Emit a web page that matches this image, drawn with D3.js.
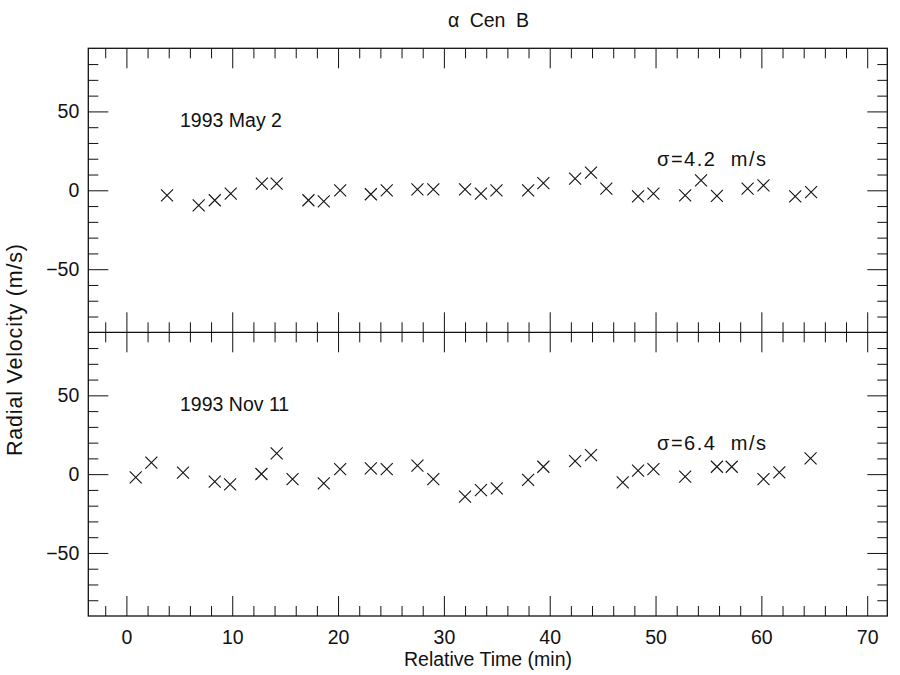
<!DOCTYPE html>
<html>
<head>
<meta charset="utf-8">
<script src="https://cdn.jsdelivr.net/npm/d3@7"></script>
<style>
  html, body { margin: 0; padding: 0; background: #fff; }
  svg { display: block; }
  text { font-family: "Liberation Sans", Arial, Helvetica, sans-serif; fill: #111; }
</style>
</head>
<body>
<svg id="chart" width="900" height="675"></svg>
<script>
// ---- data ----
const title = "α  Cen  B";
const xLabel = "Relative Time (min)";
const yLabel = "Radial Velocity (m/s)";
const panelLabels = ["1993 May 2", "1993 Nov 11"];
const sigmaLabels = ["σ=4.2  m/s", "σ=6.4  m/s"];

const timeMay = [3.84, 6.83, 8.35, 9.86, 12.8, 14.2, 17.2, 18.65, 20.2, 23.1, 24.6, 27.5, 29.0, 32.0, 33.5,
                 34.97, 37.96, 39.4, 42.4, 43.9, 45.35, 48.35, 49.8, 52.8, 54.3, 55.8, 58.7, 60.2, 63.2, 64.7];
const rvMay   = [-3.2, -9.5, -6.3, -2.1, 4.2, 4.2, -6.3, -7.0, 0.0, -2.5, 0.0, 0.6, 0.6, 0.6, -2.1,
                 0.0, 0.0, 4.6, 7.4, 11.2, 1.0, -3.8, -2.1, -3.2, 6.3, -3.6, 1.0, 3.1, -3.8, -1.1];

const timeNov = [0.88, 2.36, 5.35, 8.35, 9.8, 12.76, 14.2, 15.7, 18.65, 20.2, 23.1, 24.6, 27.5, 29.0, 32.0,
                 33.5, 35.0, 37.96, 39.4, 42.4, 43.9, 46.9, 48.35, 49.8, 52.8, 55.8, 57.2, 60.2, 61.7, 64.65];
const rvNov   = [-2.0, 7.3, 0.9, -4.8, -6.5, 0.1, 13.2, -3.1, -5.8, 3.2, 3.7, 3.2, 5.4, -3.1, -14.3,
                 -10.1, -9.0, -3.7, 4.7, 8.3, 12.1, -5.2, 2.2, 3.2, -1.6, 4.7, 4.7, -3.1, 1.1, 10.0];

const xTickValues = [0, 10, 20, 30, 40, 50, 60, 70];
const xMinorValues = d3.range(-2, 71, 2);
const yTickValues = [-50, 0, 50];
const yMinorValues = d3.range(-80, 81, 10);

// ---- layout ----
const svg = d3.select("#chart");
const L = 88.3, R = 887.3, T = 48.3, M = 332.3, B = 616;

const x = d3.scaleLinear().domain([-3.6, 71.9]).range([L, R]);
const yTop = d3.scaleLinear().domain([-90, 90]).range([M, T]);
const yBot = d3.scaleLinear().domain([-90, 90]).range([B, M]);

const panels = [
  { y: yTop, t: timeMay, v: rvMay, top: T, bottom: M, label: panelLabels[0], sigma: sigmaLabels[0] },
  { y: yBot, t: timeNov, v: rvNov, top: M, bottom: B, label: panelLabels[1], sigma: sigmaLabels[1] }
];

function strip(g) {
  g.select(".domain").remove();
  g.selectAll("line").attr("stroke", "#111").attr("stroke-width", 1);
  return g;
}

panels.forEach((p, i) => {
  [[xTickValues, 20], [xMinorValues.filter(d => d % 10 !== 0), 10]].forEach(([vals, len]) => {
    svg.append("g").attr("transform", `translate(0,${p.top})`)
      .call(d3.axisTop(x).tickValues(vals).tickSize(-len).tickFormat(""))
      .call(strip);
    svg.append("g").attr("transform", `translate(0,${p.bottom})`)
      .call(d3.axisBottom(x).tickValues(vals).tickSize(-len).tickFormat(""))
      .call(strip);
  });
  [[yTickValues, 20], [yMinorValues.filter(d => d % 50 !== 0), 10]].forEach(([vals, len]) => {
    svg.append("g").attr("transform", `translate(${L},0)`)
      .call(d3.axisLeft(p.y).tickValues(vals).tickSize(-len).tickFormat(""))
      .call(strip);
    svg.append("g").attr("transform", `translate(${R},0)`)
      .call(d3.axisRight(p.y).tickValues(vals).tickSize(-len).tickFormat(""))
      .call(strip);
  });
  svg.append("g").attr("transform", `translate(${L},0)`)
    .call(d3.axisLeft(p.y).tickValues(yTickValues).tickSize(0).tickPadding(9).tickFormat(d3.format("d")))
    .call(g => g.select(".domain").remove())
    .call(g => g.selectAll("text").attr("font-size", 19.5).attr("font-family", null).attr("fill", "#111"));

  const s = 6;
  svg.append("g").selectAll("path").data(p.t.map((t, k) => [t, p.v[k]])).join("path")
    .attr("d", d => {
      const cx = x(d[0]), cy = p.y(d[1]);
      return `M${cx - s},${cy - s}L${cx + s},${cy + s}M${cx - s},${cy + s}L${cx + s},${cy - s}`;
    })
    .attr("stroke", "#111").attr("stroke-width", 1.1).attr("fill", "none");

  svg.append("text").attr("x", 180).attr("y", p.y(44.5) + 7)
    .attr("font-size", 19.5).text(p.label);
  svg.append("text").attr("x", 657).attr("y", p.y(19.3) + 6.5)
    .attr("font-size", 20).attr("textLength", 109).attr("lengthAdjust", "spacing")
    .style("white-space", "pre").text(p.sigma);
});

svg.append("g").attr("transform", `translate(0,${B})`)
  .call(d3.axisBottom(x).tickValues(xTickValues).tickSize(0).tickPadding(14).tickFormat(d3.format("d")))
  .call(g => g.select(".domain").remove())
  .call(g => g.selectAll("text").attr("font-size", 19.5).attr("font-family", null).attr("fill", "#111"));

svg.append("rect").attr("x", L).attr("y", T).attr("width", R - L).attr("height", B - T)
  .attr("fill", "none").attr("stroke", "#111").attr("stroke-width", 1.3);
svg.append("line").attr("x1", L).attr("x2", R).attr("y1", M).attr("y2", M)
  .attr("stroke", "#111").attr("stroke-width", 1.3);

svg.append("text").attr("x", 448).attr("y", 27).attr("font-size", 19.5)
  .attr("textLength", 81).attr("lengthAdjust", "spacing")
  .style("white-space", "pre").text(title);

svg.append("text").attr("x", 488).attr("y", 666).attr("text-anchor", "middle")
  .attr("font-size", 19.5).text(xLabel);
svg.append("text").attr("transform", "translate(22,350) rotate(-90)").attr("text-anchor", "middle")
  .attr("font-size", 21.5).attr("textLength", 212).attr("lengthAdjust", "spacing").text(yLabel);
</script>
</body>
</html>
